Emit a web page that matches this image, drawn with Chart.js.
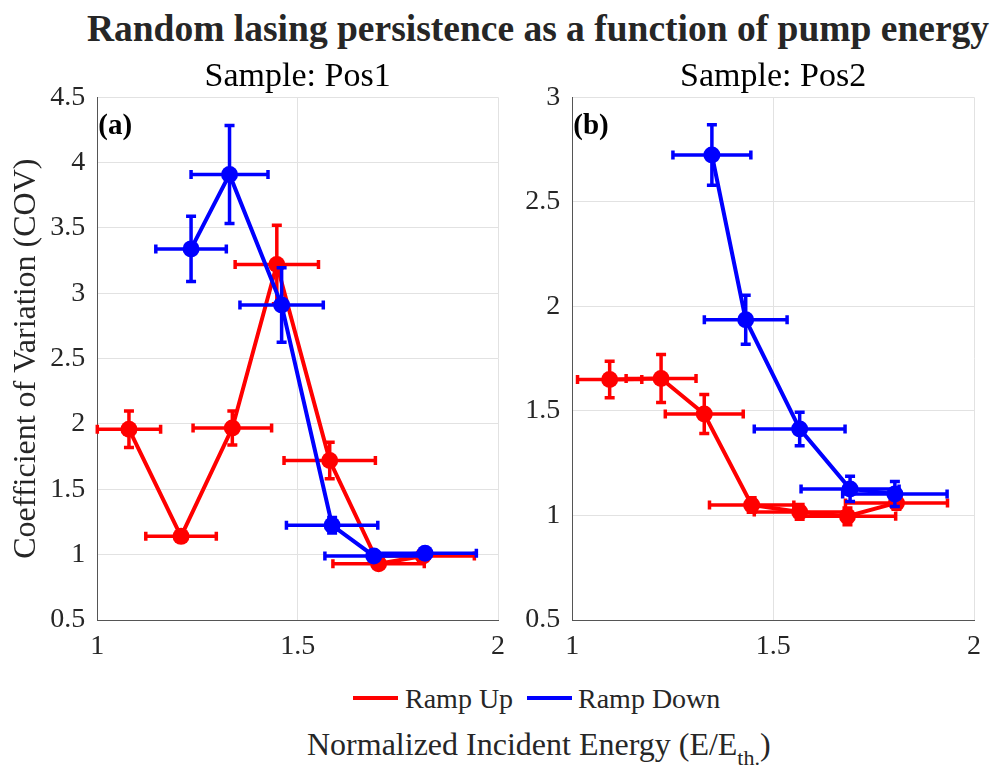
<!DOCTYPE html>
<html>
<head>
<meta charset="utf-8">
<script src="https://cdn.jsdelivr.net/npm/chart.js@4.4.1/dist/chart.umd.min.js"></script>
<style>
  body { margin: 0; background: #fff; }
  #wrap { position: relative; width: 991px; height: 768px; font-family: "Liberation Serif", "Times New Roman", serif; color: #262626; }
  canvas { position: absolute; top: 0; }
  .txt { position: absolute; line-height: 1; white-space: nowrap; }
  .swatch { position: absolute; height: 4px; width: 45px; }
</style>
</head>
<body>
<div id="wrap">
  <div class="txt" style="left:538px; top:10px; font-size:37.5px; font-weight:bold; transform:translateX(-50%);">Random lasing persistence as a function of pump energy</div>
  <canvas id="left" width="515" height="680" style="left:0;"></canvas>
  <canvas id="right" width="476" height="680" style="left:515px;"></canvas>
  <div class="swatch" style="left:353px; top:696px; background:#ff0000;"></div>
  <div class="txt" style="left:405px; top:684.5px; font-size:28px;">Ramp Up</div>
  <div class="swatch" style="left:527px; top:696px; background:#0000ff;"></div>
  <div class="txt" style="left:578px; top:684.5px; font-size:28px;">Ramp Down</div>
  <div class="txt" style="left:307px; top:728px; font-size:32px;">Normalized Incident Energy (E/E<span style="font-size:22px; position:relative; top:10px;">th.</span>)</div>
</div>
<script>
(function(){
  // Pos1
  const upX1 = [1.079, 1.209, 1.337, 1.448, 1.580, 1.702, 1.813];
  const upY1 = [1.96, 1.14, 1.97, 3.22, 1.72, 0.93, 0.99];
  const upXErr1 = [0.079, 0.088, 0.098, 0.104, 0.114, 0.114, 0.128];
  const upYErr1 = [0.14, 0.03, 0.13, 0.30, 0.14, 0.03, 0.03];
  const downX1 = [1.234, 1.330, 1.460, 1.586, 1.690, 1.818];
  const downY1 = [3.34, 3.91, 2.91, 1.225, 0.99, 1.01];
  const downXErr1 = [0.088, 0.096, 0.104, 0.114, 0.122, 0.128];
  const downYErr1 = [0.25, 0.375, 0.285, 0.06, 0.03, 0.03];

  // Pos2
  const upX2 = [1.093, 1.221, 1.3285, 1.4465, 1.566, 1.685, 1.807];
  const upY2 = [1.65, 1.655, 1.485, 1.05, 1.017, 0.996, 1.06];
  const upXErr2 = [0.08, 0.087, 0.097, 0.105, 0.113, 0.12, 0.127];
  const upYErr2 = [0.087, 0.115, 0.093, 0.035, 0.035, 0.04, 0.03];
  const downX2 = [1.3475, 1.4317, 1.566, 1.6915, 1.803];
  const downY2 = [2.724, 1.936, 1.414, 1.127, 1.103];
  const downXErr2 = [0.097, 0.103, 0.113, 0.122, 0.13];
  const downYErr2 = [0.145, 0.117, 0.08, 0.06, 0.06];

  const xTicks = [1, 1.5, 2];
  const yTicks1 = [0.5, 1, 1.5, 2, 2.5, 3, 3.5, 4, 4.5];
  const yTicks2 = [0.5, 1, 1.5, 2, 2.5, 3];

  const serif = '"Liberation Serif", "Times New Roman", serif';
  const RED = '#ff0000', BLUE = '#0000ff';

  const errorBars = {
    id: 'errorBars',
    afterDatasetDraw(chart, args) {
      const ds = chart.data.datasets[args.index];
      const xs = chart.scales.x, ys = chart.scales.y;
      const ctx = chart.ctx;
      ctx.save();
      ctx.strokeStyle = ds.borderColor;
      ctx.lineWidth = 3.5;
      ds.data.forEach((p, i) => {
        const px = xs.getPixelForValue(p.x), py = ys.getPixelForValue(p.y);
        const x0 = xs.getPixelForValue(p.x - ds.xErr[i]), x1 = xs.getPixelForValue(p.x + ds.xErr[i]);
        const y0 = ys.getPixelForValue(p.y - ds.yErr[i]), y1 = ys.getPixelForValue(p.y + ds.yErr[i]);
        ctx.beginPath();
        ctx.moveTo(x0, py); ctx.lineTo(x1, py);
        ctx.moveTo(x0, py - 4.5); ctx.lineTo(x0, py + 4.5);
        ctx.moveTo(x1, py - 4.5); ctx.lineTo(x1, py + 4.5);
        ctx.moveTo(px, y0); ctx.lineTo(px, y1);
        ctx.moveTo(px - 5, y0); ctx.lineTo(px + 5, y0);
        ctx.moveTo(px - 5, y1); ctx.lineTo(px + 5, y1);
        ctx.stroke();
      });
      ctx.restore();
    }
  };

  const panelLabel = {
    id: 'panelLabel',
    afterDraw(chart, args, opts) {
      const ctx = chart.ctx;
      ctx.save();
      ctx.font = 'bold 29px ' + serif;
      ctx.fillStyle = '#000';
      ctx.textBaseline = 'alphabetic';
      ctx.fillText(opts.text, chart.chartArea.left + 1, chart.chartArea.top + 37);
      ctx.restore();
    }
  };

  function series(xs, ys, xe, ye, color, label, order) {
    return {
      label: label,
      data: xs.map((x, i) => ({x: x, y: ys[i]})),
      xErr: xe,
      yErr: ye,
      borderColor: color,
      backgroundColor: color,
      borderWidth: 4,
      pointRadius: 8.5,
      pointBorderWidth: 0,
      pointBackgroundColor: color,
      showLine: true,
      tension: 0,
      order: order
    };
  }

  function makePanel(id, title, tag, yTicks, axisW, padRight, datasets, yTitle) {
    return new Chart(document.getElementById(id), {
      type: 'scatter',
      data: {datasets: datasets},
      plugins: [errorBars, panelLabel],
      options: {
        responsive: false,
        animation: false,
        layout: {padding: {top: 0, right: padRight, left: 0, bottom: 0}},
        plugins: {
          legend: {display: false},
          tooltip: {enabled: false},
          title: {
            display: true,
            fullSize: false,
            text: title,
            color: '#000',
            font: {family: serif, size: 34, weight: 'normal'},
            padding: {top: 56.5, bottom: 0}
          },
          panelLabel: {text: tag}
        },
        scales: {
          x: {
            type: 'linear',
            min: 1, max: 2,
            afterBuildTicks: s => { s.ticks = xTicks.map(v => ({value: v})); },
            afterFit: s => { s.height = 60; },
            ticks: {color: '#262626', font: {family: serif, size: 28}, padding: 10, callback: v => String(v)},
            grid: {color: '#e2e2e2', drawTicks: false},
            border: {color: '#555', width: 1}
          },
          y: {
            type: 'linear',
            min: yTicks[0], max: yTicks[yTicks.length - 1],
            afterBuildTicks: s => { s.ticks = yTicks.map(v => ({value: v})); },
            afterFit: s => { s.width = axisW; },
            ticks: {color: '#262626', font: {family: serif, size: 28}, padding: 12, callback: v => String(v)},
            grid: {color: '#e2e2e2', drawTicks: false},
            border: {color: '#555', width: 1},
            title: {
              display: !!yTitle,
              text: yTitle || '',
              color: '#262626',
              font: {family: serif, size: 32},
              padding: {top: 7, bottom: 0}
            }
          }
        }
      }
    });
  }

  makePanel('left', 'Sample: Pos1', '(a)', yTicks1, 97.3, 13.3, [
    series(upX1, upY1, upXErr1, upYErr1, RED, 'Ramp Up', 2),
    series(downX1, downY1, downXErr1, downYErr1, BLUE, 'Ramp Down', 1)
  ], 'Coefficient of Variation (COV)');

  makePanel('right', 'Sample: Pos2', '(b)', yTicks2, 57.3, 14.3, [
    series(upX2, upY2, upXErr2, upYErr2, RED, 'Ramp Up', 2),
    series(downX2, downY2, downXErr2, downYErr2, BLUE, 'Ramp Down', 1)
  ]);
})();
</script>
</body>
</html>
